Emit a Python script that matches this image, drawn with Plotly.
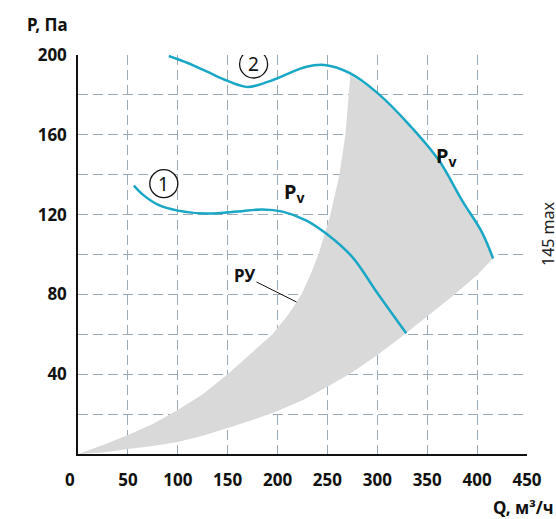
import numpy as np
import plotly.graph_objects as go

# curve 1 (small fan speed)
q1 = [56, 65, 80, 100, 130, 160, 185, 205, 229, 250, 275, 300, 329]
p1 = [134.5, 130, 125, 122, 120.5, 121.5, 122.6, 121.5, 117, 110, 98.7, 80.7, 60.5]

# curve 2 (max speed)
q2 = [91, 110, 130, 150, 170, 190, 210, 228, 247, 272, 300, 332, 362, 385, 405, 416]
p2 = [199.5, 196, 191.5, 187, 184, 186.5, 190.5, 194, 195, 191, 181, 165, 147, 127, 111, 98]

# shaded control zone (РУ): upper and lower system curves
ru_up_q = [0, 25, 50, 75, 100, 125, 150, 173, 195, 211, 224, 233, 241, 253, 262, 268, 271, 273]
ru_up_p = [0, 4.5, 9.5, 15, 22, 30, 40, 50, 60, 70, 80, 90, 100, 120, 140, 160, 180, 190]
ru_lo_q = [0, 25, 50, 75, 100, 125, 150, 175, 200, 225, 250, 275, 300, 325, 350, 375, 400, 416]
ru_lo_p = [0, 0.8, 2.5, 4, 6, 9.2, 13, 17, 21.5, 27, 33.7, 41, 49.6, 59, 69, 79, 89.7, 98]

x_ticks = [50, 100, 150, 200, 250, 300, 350, 400, 450]
y_ticks = [40, 80, 120, 160, 200]

W, H = 556, 519
L, R, T, B = 78, 29, 55, 65
pw, ph = W - L - R, H - T - B

def px(x, y):
    return (x - L) / pw, (H - B - y) / ph

BLUE = "#1aa7c6"
GRID = "#9aabb7"
FONT = "Noto Sans"

fig = go.Figure()

# gray zone polygon: upper boundary, top along curve 2, back along lower boundary
q2a = np.array(q2)
p2a = np.array(p2)
m = q2a > ru_up_q[-1]
zq = list(ru_up_q) + list(q2a[m]) + list(ru_lo_q[::-1])
zp = list(ru_up_p) + list(p2a[m]) + list(ru_lo_p[::-1])
fig.add_trace(go.Scatter(x=zq, y=zp, fill="toself", fillcolor="#d9d9d9",
                         line=dict(width=0), mode="lines", hoverinfo="skip"))

fig.add_trace(go.Scatter(x=q1, y=p1, mode="lines",
                         line=dict(color=BLUE, width=2.5, shape="spline", smoothing=1.0)))
fig.add_trace(go.Scatter(x=q2, y=p2, mode="lines",
                         line=dict(color=BLUE, width=2.5, shape="spline", smoothing=1.0)))

axis_common = dict(
    showgrid=True, gridcolor=GRID, gridwidth=1.3, griddash="10px,5px",
    showline=True, linecolor="#111", linewidth=1.5,
    ticks="", zeroline=False,
    tickfont=dict(family=FONT, size=17, color="#111", weight="bold"),
    fixedrange=True,
)
fig.update_xaxes(range=[0, 450], tickmode="array", tickvals=x_ticks,
                 ticklabelstandoff=10, **axis_common)
fig.update_yaxes(range=[0, 200], tickmode="array", tickvals=y_ticks,
                 ticklabelstandoff=6,
                 minor=dict(tickmode="linear", tick0=0, dtick=20, showgrid=True,
                            gridcolor=GRID, gridwidth=1.3, griddash="10px,5px"),
                 **axis_common)

# numbered circles
for num, cq, cp in [("1", 86, 135.5), ("2", 176, 195.5)]:
    fig.add_shape(type="circle", xref="x", yref="y", xsizemode="pixel", ysizemode="pixel",
                  xanchor=cq, yanchor=cp, x0=-14, x1=14, y0=-14, y1=14,
                  line=dict(color="#111", width=1.3), fillcolor="white")
    fig.add_annotation(x=cq, y=cp, text=num, showarrow=False,
                       font=dict(family=FONT, size=19, color="#111"))

ann_font = dict(family=FONT, size=20, color="#111", weight="bold")
fig.add_annotation(x=216, y=131, text="P<sub>v</sub>", showarrow=False, font=ann_font)
fig.add_annotation(x=369, y=149, text="P<sub>v</sub>", showarrow=False, font=ann_font)
fig.add_annotation(x=219, y=76.2, text="РУ", showarrow=True, arrowhead=0, arrowwidth=1,
                   arrowcolor="#111", ax=-52, ay=-26,
                   font=dict(family=FONT, size=17, color="#111", weight="bold"))

x0, y0 = px(25, 25)
fig.add_annotation(xref="paper", yref="paper", x=x0, y=y0, text="P, Па", showarrow=False,
                   xanchor="left", yanchor="middle",
                   font=dict(family=FONT, size=17, color="#111", weight="bold"))
x0, y0 = px(556, 507)
fig.add_annotation(xref="paper", yref="paper", x=x0, y=y0, text="Q, м³/ч", showarrow=False,
                   xanchor="right", yanchor="middle",
                   font=dict(family=FONT, size=17, color="#111", weight="bold"))
x0, y0 = px(70, 480)
fig.add_annotation(xref="paper", yref="paper", x=x0, y=y0, text="0", showarrow=False,
                   xanchor="center", yanchor="middle",
                   font=dict(family=FONT, size=17, color="#111", weight="bold"))
x0, y0 = px(548, 234)
fig.add_annotation(xref="paper", yref="paper", x=x0, y=y0, text="145 max", showarrow=False,
                   xanchor="center", yanchor="middle",
                   textangle=-90, font=dict(family=FONT, size=16, color="#222"))

fig.update_layout(width=W, height=H, margin=dict(l=L, r=R, t=T, b=B),
                  plot_bgcolor="white", paper_bgcolor="white", showlegend=False)

fig.write_html("out.html", config={"displayModeBar": False},
               post_script="document.body.style.margin='0';")
